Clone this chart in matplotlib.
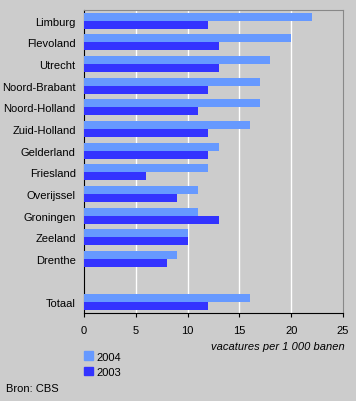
import numpy as np
import matplotlib
matplotlib.use("Agg")
import matplotlib.pyplot as plt
from matplotlib.patches import Patch

plt.rcParams['font.family'] = ['Liberation Sans', 'DejaVu Sans']

# data
regions = ["Limburg", "Flevoland", "Utrecht", "Noord-Brabant", "Noord-Holland",
           "Zuid-Holland", "Gelderland", "Friesland", "Overijssel", "Groningen",
           "Zeeland", "Drenthe", "", "Totaal"]
v2004 = [22, 20, 18, 17, 17, 16, 13, 12, 11, 11, 10, 9, np.nan, 16]
v2003 = [12, 13, 13, 12, 11, 12, 12, 6, 9, 13, 10, 8, np.nan, 12]
xticks = [0, 5, 10, 15, 20, 25]

c2004 = "#6699ff"
c2003 = "#3333ff"
bg = "#cccccc"

fig = plt.figure(figsize=(3.56, 4.02), dpi=100, facecolor=bg)
ax = fig.add_axes([84 / 356, 1 - 314 / 402, 259 / 356, 303 / 402])
ax.set_facecolor(bg)

y = np.arange(len(regions))
h = 0.37
ax.barh(y - h / 2, v2004, height=h, color=c2004, zorder=3)
ax.barh(y + h / 2, v2003, height=h, color=c2003, zorder=3)

ax.set_ylim(len(regions) - 0.5, -0.5)
ax.set_xlim(0, 25)
ax.set_yticks(y)
ax.set_yticklabels(regions, fontsize=8)
ax.tick_params(axis='y', length=0, pad=6)
ax.set_xticks(xticks)
ax.tick_params(axis='x', labelsize=8, length=3, direction='out', pad=6)

for x in xticks[1:-1]:
    ax.axvline(x, color="white", lw=1, zorder=1)

ax.spines['left'].set_color('black')
ax.spines['bottom'].set_color('black')
ax.spines['top'].set_color('#888888')
ax.spines['right'].set_color('#888888')

ax.set_xlabel("vacatures per 1 000 banen", fontsize=8, style='italic',
              ha='right', x=1.005, labelpad=4)

handles = [Patch(color=c2004, label="2004"), Patch(color=c2003, label="2003")]
fig.legend(handles=handles, loc='upper left', bbox_to_anchor=(80 / 356, 1 - 348 / 402),
           frameon=False, fontsize=8, handlelength=0.8, handleheight=0.8,
           handletextpad=0.3, labelspacing=0.45, borderaxespad=0)

fig.text(6 / 356, 1 - 389 / 402, "Bron: CBS", fontsize=8, va='center')

fig.savefig("out.png", dpi=100, facecolor=bg)
